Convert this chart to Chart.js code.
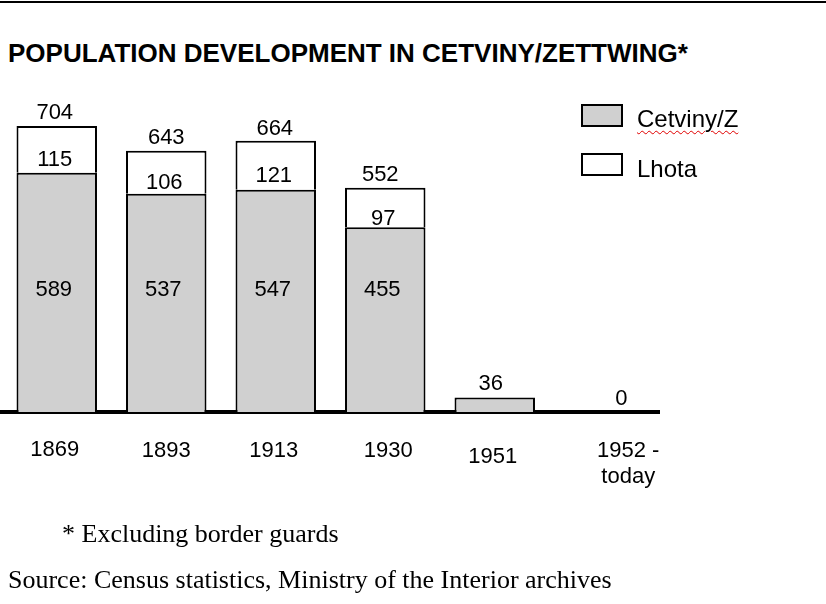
<!DOCTYPE html>
<html>
<head>
<meta charset="utf-8">
<script src="https://cdn.jsdelivr.net/npm/chart.js@4"></script>
<style>
  body { margin: 0; width: 826px; height: 604px; background: #fff; position: relative; overflow: hidden; }
  #topline { position: absolute; left: 0; top: 1px; width: 826px; height: 0; border-top: 2px solid #000; }
  #title { position: absolute; left: 8px; top: 38px; font: bold 26px "Liberation Sans", Arial, sans-serif; color: #000; white-space: nowrap; }
  #wrap { position: absolute; left: 0; top: 0; width: 826px; height: 604px; }
  .lg-box { position: absolute; left: 581px; width: 38px; height: 19px; border: 2px solid #000; }
  .lg-text { position: absolute; left: 637px; font: 24px "Liberation Sans", Arial, sans-serif; color: #000; white-space: nowrap; }
  .note { position: absolute; font: 26px "Liberation Serif", "Times New Roman", serif; color: #000; white-space: nowrap; }
</style>
</head>
<body>
<div id="topline"></div>
<div id="title">POPULATION DEVELOPMENT IN CETVINY/ZETTWING*</div>
<div id="wrap"><canvas id="popChart"></canvas></div>
<div class="lg-box" style="top:104px;background:#d0d0d0"></div>
<div class="lg-text" style="top:105px;text-decoration:underline wavy #e00000;text-decoration-thickness:1px;text-underline-offset:3px">Cetviny/Z</div>
<div class="lg-box" style="top:153px;background:#fff"></div>
<div class="lg-text" style="top:155px">Lhota</div>
<div class="note" style="left:62px;top:519px">* Excluding border guards</div>
<div class="note" style="left:8px;top:565px">Source: Census statistics, Ministry of the Interior archives</div>

<script>
const years = ["1869", "1893", "1913", "1930", "1951", ["1952 -", "today"]]
const cetviny = [589, 537, 547, 455, 36, 0]
const lhota = [115, 106, 121, 97, 0, 0]
const totals = [704, 643, 664, 552, 36, 0]

// small nudges so the labels sit like in the original slide
const totalDx = [-2, 0, -1, -5, -4, 17]
const labelDx = [-2, 0, -2, 3, -2, 24]
const labelDy = [0, 1, 1, 1, 7, 1]

const font = '22px "Liberation Sans", Arial, sans-serif'

const labelPlugin = {
    id: "labels",
    afterDatasetsDraw(chart) {
        const c = chart.ctx
        const xs = chart.scales.x
        const ys = chart.scales.y
        const low = chart.getDatasetMeta(0).data
        const high = chart.getDatasetMeta(1).data
        c.save()
        c.font = font
        c.fillStyle = "#000"
        c.textAlign = "center"
        c.textBaseline = "middle"
        for (let i = 0; i < years.length; i++) {
            const x = xs.getPixelForValue(i)
            // total above the bar
            c.fillText(String(totals[i]), x + totalDx[i], ys.getPixelForValue(totals[i]) - 13)
            if (lhota[i] > 0) {
                const h = high[i]
                c.fillText(String(lhota[i]), h.x - 2, (h.y + h.base) / 2 + 11)
                c.fillText(String(cetviny[i]), low[i].x - 3, ys.getPixelForValue(300))
            }
            // category labels under the axis
            const lines = Array.isArray(years[i]) ? years[i] : [years[i]]
            lines.forEach((t, k) => {
                c.fillText(t, x + labelDx[i], chart.chartArea.bottom + 38 + labelDy[i] + k * 26)
            })
        }
        c.restore()
    }
}

const ctx = document.getElementById("popChart")

new Chart(ctx, {
    type: "bar",
    data: {
        labels: years,
        datasets: [{
            label: "Cetviny/Z",
            data: cetviny.map(v => v || null),
            backgroundColor: "#d0d0d0",
            borderColor: "#000",
            borderWidth: 2,
            borderSkipped: "start"
        }, {
            label: "Lhota",
            data: lhota.map(v => v || null),
            backgroundColor: "#fff",
            borderColor: "#000",
            borderWidth: 2,
            borderSkipped: "start"
        }]
    },
    options: {
        responsive: true,
        maintainAspectRatio: false,
        animation: false,
        devicePixelRatio: 1,
        layout: { padding: { left: 2, right: 167, top: 87, bottom: 0 } },
        datasets: { bar: { categoryPercentage: 1, barPercentage: 0.735 } },
        plugins: { legend: { display: false }, tooltip: { enabled: false } },
        scales: {
            x: {
                stacked: true,
                grid: { display: false, drawTicks: false },
                border: { display: true, color: "#000", width: 4 },
                ticks: { display: false },
                afterFit(scale) { scale.height = 192 }
            },
            y: {
                stacked: true,
                display: false,
                min: 0,
                max: 800
            }
        }
    },
    plugins: [labelPlugin]
})
</script>
</body>
</html>
